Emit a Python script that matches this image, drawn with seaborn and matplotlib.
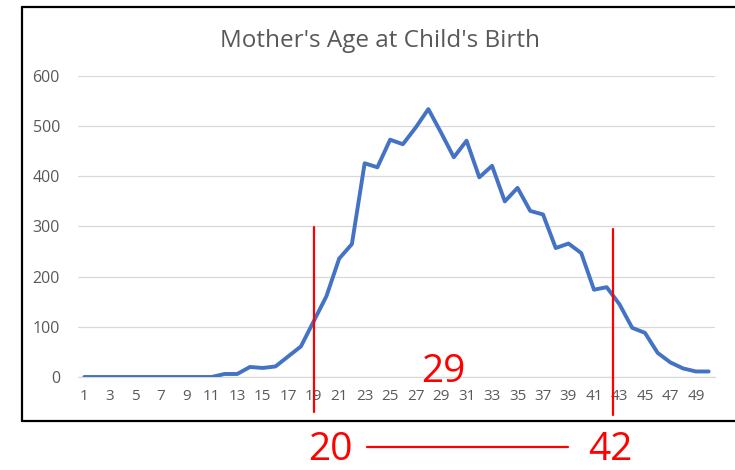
import numpy as np
import matplotlib.pyplot as plt
import pandas as pd
import seaborn as sns
from matplotlib.lines import Line2D

# mother's age (category) and number of births
ages = list(range(1, 51))
births = [0, 0, 0, 0, 0, 0, 0, 0, 0, 0,
          0, 6, 6, 20, 18, 21, 41, 61, 111, 161,
          236, 265, 426, 418, 473, 464, 497, 534, 487, 438,
          471, 398, 421, 350, 377, 331, 324, 257, 266, 247,
          174, 179, 145, 98, 88, 48, 29, 17, 11, 11]
y_ticks = [0, 100, 200, 300, 400, 500, 600]
x_labels = [str(a) if a % 2 == 1 else "" for a in ages]

# hand drawn annotations
peak_label = "29"
low_label = "20"
high_label = "42"

df = pd.DataFrame({"age": ages, "births": births})

sns.set_theme(style="white")
plt.rcParams['font.family'] = ['Open Sans', 'DejaVu Sans']

fig = plt.figure(figsize=(7.35, 4.7), dpi=100)
ax = fig.add_axes([0.1061, 0.1979, 0.8667, 0.6404])

sns.lineplot(data=df, x="age", y="births", ax=ax, color="#4472C4", lw=2.8,
             solid_joinstyle="round", solid_capstyle="round", zorder=3)

ax.set_xlim(0.5, 50.5)
ax.set_ylim(0, 600)
ax.set_yticks(y_ticks)
ax.set_xticks(ages)
ax.set_xticklabels(x_labels)
ax.tick_params(axis="x", length=0, pad=9, labelsize=11, labelcolor="#595959")
ax.tick_params(axis="y", length=0, pad=13, labelsize=11.5, labelcolor="#595959")
ax.grid(axis="y", color="#D9D9D9", lw=0.9)
ax.set_axisbelow(True)
for s in ["top", "right", "left"]:
    ax.spines[s].set_visible(False)
ax.spines["bottom"].set_color("#D9D9D9")
ax.spines["bottom"].set_linewidth(0.9)
ax.set_xlabel("")
ax.set_ylabel("")

fig.text(0.517, 0.900, "Mother's Age at Child's Birth", ha="center", va="baseline",
         fontsize=17.5, color="#595959")

# black frame (left, top, bottom)
frame = dict(color="black", lw=1.6, transform=fig.transFigure)
fig.add_artist(Line2D([0.0306, 0.0306], [0.1053, 0.986], **frame))
fig.add_artist(Line2D([0.0306, 1.0], [0.986, 0.986], **frame))
fig.add_artist(Line2D([0.0306, 1.0], [0.1053, 0.1053], **frame))

# red annotations
red = dict(color="#FF0000", lw=1.6, transform=fig.transFigure)
fig.add_artist(Line2D([0.4276, 0.4276], [0.1240, 0.5177], **red))
fig.add_artist(Line2D([0.8344, 0.8344], [0.1170, 0.5128], **red))
fig.add_artist(Line2D([0.4993, 0.7728], [0.0489, 0.0489], **red))
fig.text(0.6034, 0.188, peak_label, ha="center", va="baseline", fontsize=28, color="#FF0000")
fig.text(0.449, 0.003, low_label, ha="center", va="bottom", fontsize=28, color="#FF0000")
fig.text(0.830, 0.003, high_label, ha="center", va="bottom", fontsize=28, color="#FF0000")

fig.savefig("out.png", dpi=100, facecolor="white")
